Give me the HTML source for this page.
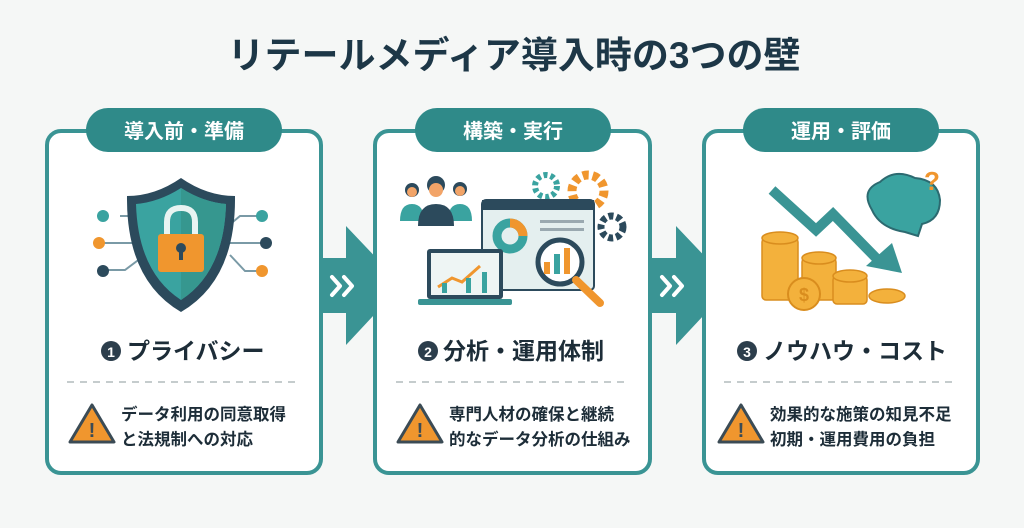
<!DOCTYPE html>
<html><head><meta charset="utf-8"><style>
body{margin:0;width:1024px;height:523px;overflow:hidden;background:#f5f7f6;font-family:"Liberation Sans","Noto Sans CJK JP",sans-serif}
</style></head><body>
<svg width="1024" height="523" viewBox="0 0 1024 523" xmlns="http://www.w3.org/2000/svg" font-family="Liberation Sans, Noto Sans CJK JP, sans-serif">
<rect width="1024" height="523" fill="#f5f7f6"/>
<text x="514" y="68" text-anchor="middle" font-size="37" font-weight="bold" fill="#1d3747">リテールメディア導入時の3つの壁</text>

<!-- arrows -->
<g fill="#3a9494">
<path d="M318 258 H346 V226 L402 285 L346 345 V313 H318Z"/>
<path d="M648 258 H676 V226 L732 285 L676 345 V313 H648Z"/>
</g>
<g stroke="#fff" stroke-width="4" fill="none" stroke-linecap="round" stroke-linejoin="round">
<path d="M332 277 L340 286 L332 295 M344 277 L352 286 L344 295"/>
<path d="M662 277 L670 286 L662 295 M674 277 L682 286 L674 295"/>
</g>

<!-- cards -->
<g fill="#fff" stroke="#3a9494" stroke-width="4">
<rect x="47" y="131" width="274" height="342" rx="14"/>
<rect x="375" y="131" width="275" height="342" rx="14"/>
<rect x="704" y="131" width="274" height="342" rx="14"/>
</g>
<g fill="#2f8a89">
<rect x="86" y="108" width="196" height="44" rx="22"/>
<rect x="415" y="108" width="196" height="44" rx="22"/>
<rect x="743" y="108" width="196" height="44" rx="22"/>
</g>
<g font-size="20" font-weight="bold" fill="#fff" text-anchor="middle">
<text x="184" y="138">導入前・準備</text>
<text x="513" y="138">構築・実行</text>
<text x="841" y="138">運用・評価</text>
</g>

<!-- icon 1 shield -->
<g stroke="#7a9aa6" stroke-width="2" fill="none">
<path d="M120 216 H140 L150 226 M103 243 H150 M106 270 L125 270 L145 255"/>
<path d="M259 216 H240 L228 226 M262 243 H220 M258 271 L245 271 L230 255"/>
</g>
<circle cx="103" cy="216" r="6" fill="#3aa3a0"/><circle cx="99" cy="243" r="6" fill="#f0962e"/><circle cx="103" cy="271" r="6" fill="#2c4a5c"/>
<circle cx="262" cy="216" r="6" fill="#3aa3a0"/><circle cx="266" cy="243" r="6" fill="#2c4a5c"/><circle cx="262" cy="271" r="6" fill="#f0962e"/>
<path d="M181 178 Q155 196 127 196 Q126 280 181 312 Q236 280 235 196 Q207 196 181 178Z" fill="#2c4a5c"/>
<path d="M181 188 Q159 202 136 204 Q138 272 181 300 Q224 272 226 204 Q203 202 181 188Z" fill="#3aa3a0"/>
<path d="M181 188 Q203 202 226 204 Q224 272 181 300Z" fill="#36978f"/>
<path d="M167 236 V222 Q167 208 181 208 Q195 208 195 222 V236" stroke="#e8f4f2" stroke-width="6" fill="none"/>
<rect x="158" y="234" width="46" height="38" rx="3" fill="#f0962e"/>
<circle cx="181" cy="248" r="5" fill="#2c4a5c"/><rect x="179" y="250" width="4" height="10" fill="#2c4a5c"/>

<!-- icon 2 -->
<g fill="#2c4a5c"><circle cx="412" cy="190" r="7"/><circle cx="460" cy="189" r="7"/><circle cx="436" cy="185" r="9"/></g>
<g fill="#f2a468"><circle cx="412" cy="192" r="5"/><circle cx="460" cy="191" r="5"/><circle cx="436" cy="190" r="7"/></g>
<path d="M400 221 Q400 204 412 204 Q424 204 424 221Z M448 221 Q448 204 460 204 Q472 204 472 221Z" fill="#3aa3a0"/>
<path d="M418 226 Q418 204 436 204 Q454 204 454 226Z" fill="#2c4a5c"/>
<circle cx="546" cy="186" r="11" fill="none" stroke="#3aa3a0" stroke-width="6" stroke-dasharray="4 3"/>
<circle cx="588" cy="191" r="16" fill="none" stroke="#f0962e" stroke-width="9" stroke-dasharray="6 4"/>
<circle cx="612" cy="227" r="11" fill="none" stroke="#2c4a5c" stroke-width="7" stroke-dasharray="5 3"/>
<rect x="482" y="200" width="112" height="90" rx="4" fill="#e4efef" stroke="#2c4a5c" stroke-width="2"/>
<rect x="482" y="200" width="112" height="10" fill="#2c4a5c"/>
<circle cx="510" cy="236" r="13" fill="none" stroke="#3aa3a0" stroke-width="9"/>
<path d="M510 223 A13 13 0 0 1 523 236" stroke="#f0962e" stroke-width="9" fill="none"/>
<rect x="540" y="220" width="44" height="3" fill="#9aa9b0"/><rect x="540" y="228" width="44" height="3" fill="#9aa9b0"/>
<circle cx="560" cy="262" r="22" fill="#fff" stroke="#2c4a5c" stroke-width="5"/>
<rect x="544" y="262" width="6" height="12" fill="#f0962e"/><rect x="554" y="254" width="6" height="20" fill="#3aa3a0"/><rect x="564" y="248" width="6" height="26" fill="#f0962e"/>
<path d="M576 280 L600 303" stroke="#f0962e" stroke-width="8" stroke-linecap="round"/>
<rect x="427" y="249" width="76" height="50" rx="3" fill="#2c4a5c"/><rect x="431" y="253" width="68" height="42" fill="#eef5f4"/>
<rect x="418" y="299" width="94" height="6" rx="2" fill="#3a9494"/>
<path d="M438 287 L452 278 L462 282 L480 266" stroke="#f0962e" stroke-width="3" fill="none"/>
<rect x="442" y="283" width="5" height="10" fill="#3aa3a0"/><rect x="466" y="278" width="5" height="15" fill="#3aa3a0"/><rect x="482" y="272" width="5" height="21" fill="#3aa3a0"/>

<!-- icon 3 -->
<path d="M772 190 L816 230 L833 214 L880 262" stroke="#3a9494" stroke-width="10" fill="none"/>
<path d="M866 266 L902 273 L892 243Z" fill="#3a9494"/>
<path d="M872 210 Q860 190 880 182 Q895 168 915 178 Q938 180 940 200 Q940 220 922 224 L918 236 L905 232 Q880 228 872 210Z" fill="#3aa3a0" stroke="#2c6a70" stroke-width="2"/>
<text x="932" y="190" font-size="26" font-weight="bold" fill="#f0962e" text-anchor="middle">?</text>
<g fill="#f3b13c" stroke="#d98d1e" stroke-width="1.5">
<rect x="762" y="238" width="36" height="62" rx="4"/><ellipse cx="780" cy="238" rx="18" ry="6"/>
<rect x="802" y="258" width="34" height="42" rx="4"/><ellipse cx="819" cy="258" rx="17" ry="6"/>
<rect x="833" y="276" width="34" height="28" rx="4"/><ellipse cx="850" cy="276" rx="17" ry="6"/>
<ellipse cx="887" cy="296" rx="18" ry="7"/>
</g>
<circle cx="804" cy="294" r="16" fill="#f3b13c" stroke="#d98d1e" stroke-width="2"/>
<text x="804" y="301" text-anchor="middle" font-size="18" font-weight="bold" fill="#d98d1e">$</text>

<!-- headings -->
<g font-size="23" font-weight="bold" fill="#1d2d38">
<circle cx="111" cy="351" r="10" fill="#2c3e4c"/><text x="111" y="357" font-size="14" fill="#fff" text-anchor="middle">1</text>
<text x="127" y="359">プライバシー</text>
<circle cx="428" cy="351" r="10" fill="#2c3e4c"/><text x="428" y="357" font-size="14" fill="#fff" text-anchor="middle">2</text>
<text x="443" y="359">分析・運用体制</text>
<circle cx="747" cy="351" r="10" fill="#2c3e4c"/><text x="747" y="357" font-size="14" fill="#fff" text-anchor="middle">3</text>
<text x="763" y="359">ノウハウ・コスト</text>
</g>
<g stroke="#c5cccd" stroke-width="2" stroke-dasharray="7 6">
<line x1="67" y1="382" x2="300" y2="382"/><line x1="396" y1="382" x2="630" y2="382"/><line x1="724" y1="382" x2="958" y2="382"/>
</g>
<!-- warnings -->
<g>
<path d="M92 405 L114 442 H70Z" fill="#f0962e" stroke="#3b4b55" stroke-width="3" stroke-linejoin="round"/>
<path d="M420 405 L442 442 H398Z" fill="#f0962e" stroke="#3b4b55" stroke-width="3" stroke-linejoin="round"/>
<path d="M741 405 L763 442 H719Z" fill="#f0962e" stroke="#3b4b55" stroke-width="3" stroke-linejoin="round"/>
</g>
<g font-size="20" font-weight="bold" fill="#3b4b55" text-anchor="middle">
<text x="92" y="437">!</text><text x="420" y="437">!</text><text x="741" y="437">!</text>
</g>
<g font-size="16.5" font-weight="bold" fill="#1d2d38">
<text x="121" y="420">データ利用の同意取得</text><text x="121" y="445">と法規制への対応</text>
<text x="449" y="420">専門人材の確保と継続</text><text x="449" y="445">的なデータ分析の仕組み</text>
<text x="770" y="420">効果的な施策の知見不足</text><text x="770" y="445">初期・運用費用の負担</text>
</g>
</svg>
</body></html>
